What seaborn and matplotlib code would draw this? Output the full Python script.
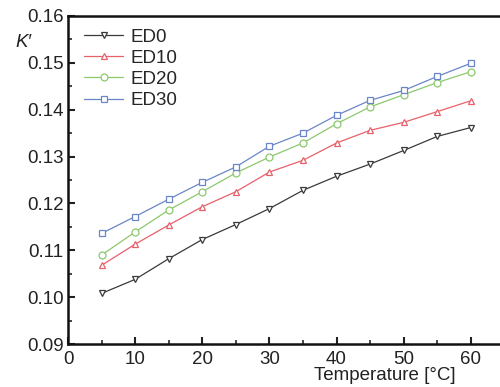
import matplotlib
matplotlib.use("Agg")
import matplotlib.pyplot as plt
import seaborn as sns
import pandas as pd
from matplotlib.ticker import MultipleLocator

temperature = [5, 10, 15, 20, 25, 30, 35, 40, 45, 50, 55, 60]
ed0 = [0.1008, 0.1038, 0.1082, 0.1123, 0.1155, 0.1189, 0.1228, 0.1258, 0.1284, 0.1313, 0.1343, 0.1362]
ed10 = [0.1068, 0.1113, 0.1154, 0.1193, 0.1225, 0.1267, 0.1292, 0.1329, 0.1356, 0.1373, 0.1396, 0.1419]
ed20 = [0.1090, 0.1139, 0.1186, 0.1225, 0.1265, 0.1299, 0.1329, 0.1370, 0.1406, 0.1432, 0.1458, 0.1481]
ed30 = [0.1136, 0.1172, 0.1209, 0.1245, 0.1278, 0.1322, 0.1350, 0.1388, 0.1420, 0.1441, 0.1471, 0.1499]
series_names = ["ED0", "ED10", "ED20", "ED30"]
series_values = [ed0, ed10, ed20, ed30]
colors = ["#3a3a3a", "#e8606a", "#8cc86e", "#6a86c8"]
markers = ["v", "^", "o", "s"]

sns.set_style("ticks")
plt.rcParams['font.family'] = ['Liberation Sans', 'DejaVu Sans']

fig = plt.figure(figsize=(5.0, 3.87), dpi=100)
ax = fig.add_axes([0.136, 0.1110, 0.862, 0.8477])

for name, vals, c, m in zip(series_names, series_values, colors, markers):
    df = pd.DataFrame({"Temperature": temperature, "K": vals})
    sns.lineplot(data=df, x="Temperature", y="K", ax=ax, color=c, marker=m,
                 markersize=5, markerfacecolor="white", markeredgecolor=c,
                 markeredgewidth=0.9, linewidth=0.9, label=name)

ax.set_xlim(0, 64.2)
ax.set_ylim(0.09, 0.16)
ax.xaxis.set_major_locator(MultipleLocator(10))
ax.xaxis.set_minor_locator(MultipleLocator(5))
ax.yaxis.set_major_locator(MultipleLocator(0.01))
ax.yaxis.set_minor_locator(MultipleLocator(0.005))
ax.yaxis.set_major_formatter(matplotlib.ticker.FormatStrFormatter('%.2f'))
ax.tick_params(which='major', direction='in', length=5, width=1.5, labelsize=13.5, colors='#222222')
ax.tick_params(axis='x', which='major', pad=5)
ax.tick_params(axis='y', which='major', pad=3)
ax.tick_params(which='minor', direction='in', length=3, width=1.2)
for side in ['left', 'bottom', 'top']:
    ax.spines[side].set_linewidth(1.8)
    ax.spines[side].set_color('#111111')
ax.spines['right'].set_visible(False)
ax.set_xlabel("")
ax.set_ylabel("")

fig.text(0.047, 0.891, "K\u2032", fontsize=13.5, style='italic', ha='center', va='center', color='#222222')
fig.text(0.77, 0.03, "Temperature [\u00b0C]", fontsize=13.5, ha='center', va='center', color='#222222')

leg = ax.legend(loc='upper left', frameon=False, fontsize=13.5, handlelength=2.1,
                handletextpad=0.4, labelspacing=0.22, borderaxespad=0.0,
                bbox_to_anchor=(0.02, 0.985))

fig.savefig("out.png", dpi=100)
